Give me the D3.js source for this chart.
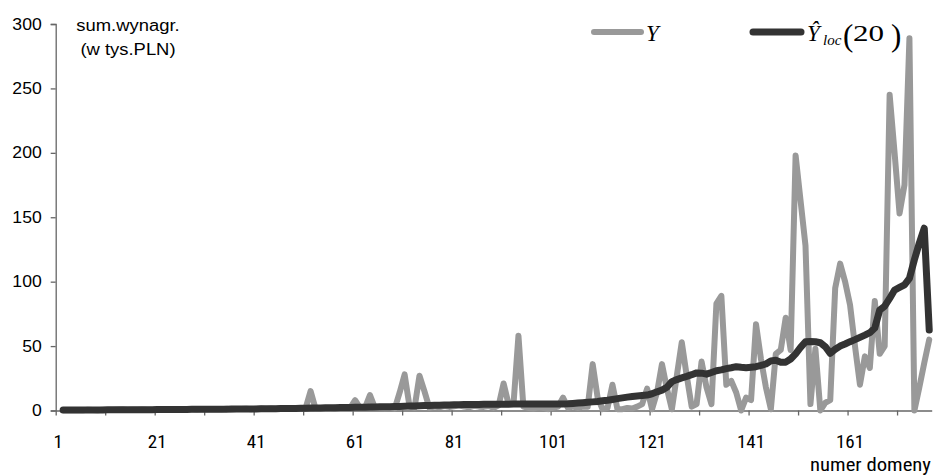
<!DOCTYPE html>
<html lang="pl">
    <head>
        <meta charset="utf-8">
        <title>sum.wynagr. - Y i Y loc(20)</title>
        <script src="https://cdn.jsdelivr.net/npm/d3@7"></script>
        <style>
            body { margin: 0; background: #fff; }
        </style>
    </head>
    <body>
        <script>
            // numer domeny 1..177 (first domain has no value)
            var domains = d3.range(1, 178);

            // Y - sum.wynagr. (w tys.PLN)
            var valuesY = [
                null, 0.2, 0.3, 0.1, 0.4, 0.2, 0.5, 0.3, 0.2, 0.6,
                0.4, 0.3, 0.5, 0.7, 0.4, 0.6, 0.5, 0.8, 0.6, 0.5,
                0.7, 0.9, 0.6, 1.0, 0.8, 0.7, 1.1, 0.9, 0.8, 1.0,
                1.2, 0.9, 1.1, 1.0, 1.3, 0.8, 1.2, 1.1, 1.4, 1.0,
                1.3, 1.5, 1.2, 1.6, 1.4, 1.8, 1.5, 1.7, 2.0, 1.6,
                1.9, 15, 1.5, 1.8, 2.0, 1.6, 2.2, 1.9, 2.4, 2.0,
                8, 2.0, 2.2, 12, 2.0, 2.5, 1.8, 2.2, 1.5, 14,
                28, 3, 2, 27, 15, 2, 3.0, 2.5, 3.5, 2.8,
                3.2, 4.0, 3.0, 2.5, 3.6, 3.0, 2.8, 3.5, 2.0, 4,
                21, 5, 5, 58, 3, 2, 1.5, 2.5, 2, 1,
                2, 3, 10, 2, 3, 2, 3, 3, 36, 10,
                1, 2, 20, 1, 1, 2, 1.5, 3, 5, 17,
                1, 14, 36, 17, 1, 27, 53, 27, 3, 5,
                38, 18, 5, 83, 89, 20, 23, 14, 0, 10,
                8, 67, 40, 18, 1, 44, 47, 72, 47, 198,
                163, 128, 5, 48, 0, 6, 8, 95, 114, 100,
                82, 50, 20, 42, 33, 85, 44, 50, 245, 200,
                153, 175, 289, 0, 18, 37, 55
            ];

            // Y^loc(20)
            var valuesLoc = [
                null, 0.3, 0.3, 0.3, 0.3, 0.3, 0.4, 0.4, 0.4, 0.4,
                0.5, 0.5, 0.5, 0.5, 0.5, 0.6, 0.6, 0.6, 0.6, 0.6,
                0.7, 0.7, 0.7, 0.8, 0.8, 0.8, 0.8, 0.9, 0.9, 0.9,
                0.9, 1.0, 1.0, 1.0, 1.0, 1.1, 1.1, 1.1, 1.1, 1.2,
                1.2, 1.3, 1.3, 1.4, 1.4, 1.5, 1.5, 1.6, 1.6, 1.7,
                1.8, 1.9, 2.0, 2.0, 2.1, 2.2, 2.2, 2.3, 2.4, 2.4,
                2.5, 2.6, 2.6, 2.7, 2.8, 2.9, 2.9, 3.0, 3.1, 3.2,
                3.3, 3.4, 3.5, 3.7, 3.8, 3.9, 4.0, 4.1, 4.2, 4.3,
                4.4, 4.5, 4.6, 4.6, 4.7, 4.7, 4.8, 4.8, 4.8, 4.9,
                4.9, 4.9, 5.0, 5.0, 5.0, 5.0, 5.0, 5.0, 5.0, 5.0,
                5.0, 5.0, 5.0, 5.2, 5.5, 5.8, 6.1, 6.4, 6.7, 7.0,
                7.5, 8.0, 8.6, 9.2, 9.8, 10.4, 10.9, 11.3, 11.7, 12.0,
                13.0, 14.5, 15.8, 18.0, 22.4, 24.0, 25.3, 26.5, 27.8, 29.2,
                29.0, 28.2, 29.5, 30.9, 31.5, 32.5, 33.2, 34.0, 33.5, 33.2,
                33.6, 34.0, 35.0, 36.1, 38.5, 39.0, 37.5, 37.5, 40.0, 44.0,
                49.0, 53.4, 53.6, 53.4, 52.6, 49.5, 44.4, 47.5, 50.0, 51.6,
                53.4, 55.0, 56.8, 58.5, 60.4, 64.0, 78.0, 81.0, 87.0, 93.5,
                95.5, 97.5, 102.6, 117.0, 130.0, 141.5, 62.5
            ];

            var yTicks = [0, 50, 100, 150, 200, 250, 300];
            var xLabels = [1, 21, 41, 61, 81, 101, 121, 141, 161];
            var xTickMarks = [0, 10, 20, 30, 40, 50, 60, 70, 80, 90, 100, 110, 120, 130, 140, 150, 160, 170];

            var w = 936;
            var h = 475;
            var plotLeft = 55.7, plotRight = 931.7, plotTop = 24, plotBottom = 410.5;
            var sans = "'Liberation Sans', Arial, sans-serif";
            var narrow = "'Liberation Sans Narrow', 'Arial Narrow', 'Roboto Condensed', sans-serif";
            var serif = "'Liberation Serif', 'Times New Roman', serif";
            // the original picture is a little stretched sideways
            var stretch = 1.15;

            var svg = d3.select("body")
                        .append("svg")
                        .attr("width", w)
                        .attr("height", h)
                        .attr("font-family", sans);

            function widen(sel, k) {
                sel.each(function() {
                    var len = this.getComputedTextLength();
                    d3.select(this)
                        .attr("textLength", len * k)
                        .attr("lengthAdjust", "spacingAndGlyphs");
                });
            }

            // category axis, points between tick marks
            var xScale = d3.scaleBand()
                            .domain(domains)
                            .range([plotLeft, plotRight])
                            .padding(0);
            var xEdge = d3.scaleLinear()
                            .domain([0, domains.length])
                            .range([plotLeft, plotRight]);
            var yScale = d3.scaleLinear()
                            .domain([0, 300])
                            .range([plotBottom, plotTop]);

            function cx(d) { return xScale(d) + xScale.bandwidth() / 2; }

            // y axis
            var yAxis = svg.append("g")
                .attr("transform", "translate(" + plotLeft + ",0)")
                .call(d3.axisLeft(yScale).tickValues(yTicks).tickSize(5).tickPadding(9));
            yAxis.select(".domain").attr("stroke", "#666").attr("stroke-width", 1.3);
            yAxis.selectAll(".tick line").attr("stroke", "#666").attr("stroke-width", 1.3);
            yAxis.selectAll("text")
                .attr("font-family", sans)
                .attr("font-size", "16px")
                .attr("fill", "#000")
                .call(widen, 1.1);

            // x axis: tick marks every 10 domains
            var xAxis = svg.append("g")
                .attr("transform", "translate(0," + plotBottom + ")")
                .call(d3.axisBottom(xEdge).tickValues(xTickMarks).tickSize(5).tickSizeOuter(0).tickFormat(""));
            xAxis.select(".domain").attr("stroke", "#666").attr("stroke-width", 1.3);
            xAxis.selectAll(".tick line").attr("stroke", "#666").attr("stroke-width", 1.3);

            // x labels every 20 domains
            var xLab = svg.append("g")
                .attr("transform", "translate(0," + plotBottom + ")")
                .call(d3.axisBottom(xScale).tickValues(xLabels).tickSize(0).tickPadding(24));
            xLab.select(".domain").remove();
            xLab.selectAll("text")
                .attr("font-family", narrow)
                .attr("font-size", "19px")
                .attr("fill", "#000");

            // lines
            var line = function(vals) {
                return d3.line()
                    .defined(function(d, i) { return vals[i] !== null; })
                    .x(function(d) { return cx(d); })
                    .y(function(d, i) { return yScale(vals[i]); })(domains);
            };

            svg.append("path")
                .attr("d", line(valuesY))
                .attr("fill", "none")
                .attr("stroke", "#999999")
                .attr("stroke-width", 6)
                .attr("stroke-linejoin", "round")
                .attr("stroke-linecap", "round");

            svg.append("path")
                .attr("d", line(valuesLoc))
                .attr("fill", "none")
                .attr("stroke", "#333333")
                .attr("stroke-width", 7)
                .attr("stroke-linejoin", "round")
                .attr("stroke-linecap", "round");

            // axis titles
            svg.append("text")
                .attr("x", 128).attr("y", 31)
                .attr("text-anchor", "middle")
                .attr("font-size", "16px")
                .text("sum.wynagr.")
                .call(widen, stretch);
            svg.append("text")
                .attr("x", 128).attr("y", 55)
                .attr("text-anchor", "middle")
                .attr("font-size", "16px")
                .text("(w tys.PLN)")
                .call(widen, stretch);
            svg.append("text")
                .attr("x", 931).attr("y", 471)
                .attr("text-anchor", "end")
                .attr("font-family", narrow)
                .attr("font-size", "18px")
                .text("numer domeny")
                .call(widen, 1.15);

            // legend
            var legend = svg.append("g");
            legend.append("line")
                .attr("x1", 594).attr("x2", 641).attr("y1", 32).attr("y2", 32)
                .attr("stroke", "#999999").attr("stroke-width", 6).attr("stroke-linecap", "round");
            legend.append("text")
                .attr("x", 646).attr("y", 41)
                .attr("font-family", serif)
                .attr("font-style", "italic")
                .attr("font-size", "23px")
                .text("Y");

            legend.append("line")
                .attr("x1", 753).attr("x2", 801).attr("y1", 32).attr("y2", 32)
                .attr("stroke", "#333333").attr("stroke-width", 7).attr("stroke-linecap", "round");
            var lt = legend.append("text")
                .attr("y", 41)
                .attr("font-family", serif);
            lt.append("tspan").attr("x", 807).attr("font-style", "italic").attr("font-size", "23px").text("\u0176");
            lt.append("tspan").attr("x", 823).attr("font-style", "italic").attr("font-size", "15px").attr("dy", 4).text("loc");
            lt.append("tspan").attr("x", 843).attr("font-size", "31px").attr("dy", 1).text("(");
            lt.append("tspan").attr("x", 853).attr("font-size", "24px").attr("dy", -5)
                .attr("textLength", 31).attr("lengthAdjust", "spacingAndGlyphs").text("20");
            lt.append("tspan").attr("x", 891).attr("font-size", "31px").attr("dy", 5).text(")");
        </script>
    </body>
</html>
